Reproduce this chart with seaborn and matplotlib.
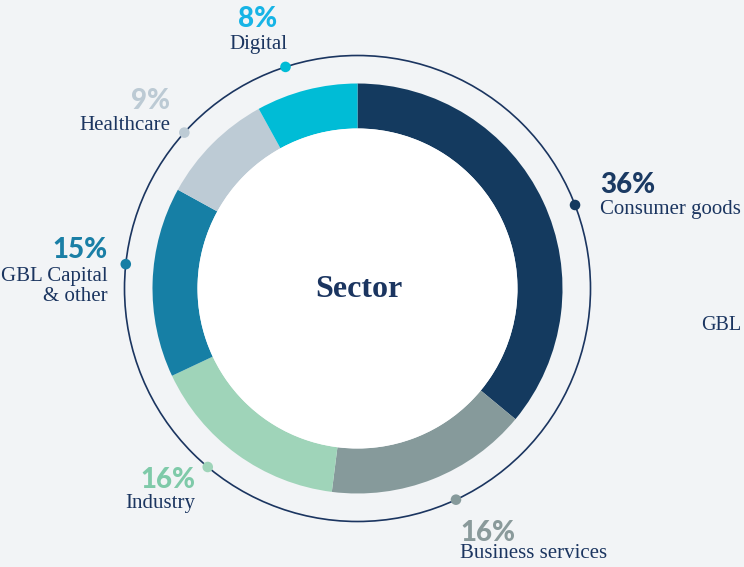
import numpy as np
import matplotlib
matplotlib.use("Agg")
import matplotlib.pyplot as plt
import seaborn as sns

# ---- data ----
sectors = ["Consumer goods", "Business services", "Industry",
           "GBL Capital\n& other", "Healthcare", "Digital"]
shares = [36, 16, 16, 15, 9, 8]
pct_labels = ["36%", "16%", "16%", "15%", "9%", "8%"]
dot_angles = [21, -65, -130, 174, 138, 108]   # marker positions on outer ring (deg)

# ---- style ----
seg_colors = ["#143a5f", "#869a9b", "#9fd4b9", "#167fa5", "#bdcbd5", "#00bcd6"]
pct_colors = ["#1b3a63", "#8a9a9b", "#7fcaa9", "#1a7fa6", "#bccad4", "#16b4e6"]
NAVY = "#1b3560"
BG = "#f2f4f6"

W, H = 744, 567
CX, CY = 357.5, H - 288.5
R_OUT, R_IN, R_RING = 205, 160, 233

# label layout (pixel coords from top-left): x, pct baseline, name baseline, align
layout = [
    (600, 193, 214, "left"),
    (460, 541, 558, "left"),
    (195, 488, 508, "right"),
    (108, 258, 281, "right"),
    (170, 109, 130, "right"),
    (258, 27, 49, "center"),
]

sns.set_theme(style="white")
plt.rcParams["font.family"] = ["Liberation Serif", "DejaVu Serif"]

fig = plt.figure(figsize=(W / 100, H / 100), dpi=100, facecolor=BG)
ax = fig.add_axes([0, 0, 1, 1])
ax.set_facecolor(BG)

ax.pie(shares, colors=seg_colors, startangle=90, counterclock=False,
       radius=R_OUT, center=(CX, CY),
       wedgeprops=dict(width=R_OUT - R_IN, linewidth=0))
ax.add_patch(plt.Circle((CX, CY), R_IN, facecolor="white", edgecolor="none", zorder=3))
ax.add_patch(plt.Circle((CX, CY), R_RING, fill=False, edgecolor=NAVY, lw=1.2, zorder=1))

ang = np.deg2rad(dot_angles)
ax.scatter(CX + R_RING * np.cos(ang), CY + R_RING * np.sin(ang),
           s=58, c=seg_colors, zorder=4, linewidths=0)

for name, pct, pc, (x, yb_pct, yb_name, ha) in zip(sectors, pct_labels, pct_colors, layout):
    ax.text(x, H - yb_pct, pct, ha=ha, va="baseline", color=pc,
            fontsize=20, fontweight=900, family=["Lato", "DejaVu Sans"])
    lines = name.split("\n")
    for i, ln in enumerate(lines):
        ax.text(x, H - yb_name - i * 20, ln, ha=ha, va="baseline", color=NAVY, fontsize=15)

ax.text(CX + 1, H - 297, "Sector", ha="center", va="baseline", color=NAVY,
        fontsize=23, fontweight="bold", zorder=5)
ax.text(741, H - 330, "GBL", ha="right", va="baseline", color=NAVY, fontsize=14.5)

ax.set_xlim(0, W)
ax.set_ylim(0, H)
ax.set_aspect("equal")
ax.axis("off")

fig.savefig("out.png", dpi=100, facecolor=BG)
